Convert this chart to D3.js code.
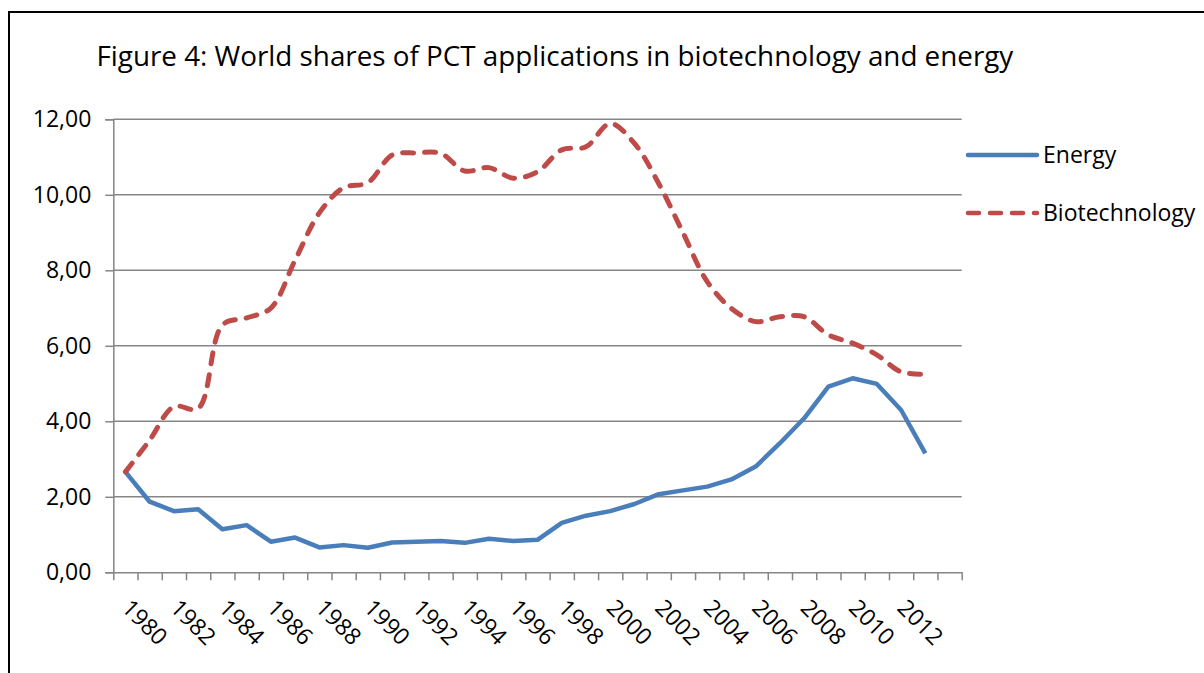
<!DOCTYPE html>
<html>
<head>
<meta charset="utf-8">
<script src="https://cdn.jsdelivr.net/npm/d3@7"></script>
<style>
  body { margin: 0; background: #fff; }
  svg { display: block; font-family: "Open Sans", sans-serif; }
</style>
</head>
<body>
<div id="chart-area"></div>
<script>
// data
const years = [1980, 1981, 1982, 1983, 1984, 1985, 1986, 1987, 1988, 1989,
  1990, 1991, 1992, 1993, 1994, 1995, 1996, 1997, 1998, 1999,
  2000, 2001, 2002, 2003, 2004, 2005, 2006, 2007, 2008, 2009,
  2010, 2011, 2012, 2013];
const energy = [2.66, 1.87, 1.62, 1.67, 1.14, 1.25, 0.81, 0.92, 0.66, 0.72,
  0.65, 0.79, 0.81, 0.83, 0.78, 0.89, 0.83, 0.86, 1.31, 1.50,
  1.62, 1.81, 2.07, 2.17, 2.27, 2.46, 2.80, 3.42, 4.08, 4.92,
  5.14, 4.99, 4.30, 3.15];
const biotech = [2.66, 3.50, 4.39, 4.34, 6.55, 6.74, 7.00, 8.27, 9.52, 10.19,
  10.32, 11.05, 11.11, 11.10, 10.63, 10.72, 10.44, 10.61, 11.19, 11.27,
  11.89, 11.36, 10.30, 9.00, 7.70, 6.99, 6.64, 6.77, 6.77, 6.29,
  6.07, 5.76, 5.31, 5.25];
const yTicks = [0, 2, 4, 6, 8, 10, 12];
const title = "Figure 4: World shares of PCT applications in biotechnology and energy";
const seriesNames = ["Energy", "Biotechnology"];

const W = 1204, H = 673;
const margin = { left: 113.3, right: 1204 - 961.7, top: 119.3, bottom: 673 - 572.3 };
const width = W - margin.left - margin.right,
  height = H - margin.top - margin.bottom;

const svg = d3.select("#chart-area").append("svg")
  .attr("width", W)
  .attr("height", H);

// outer chart frame
svg.append("rect")
  .attr("x", 9).attr("y", 12)
  .attr("width", W + 20).attr("height", H + 20)
  .attr("fill", "none")
  .attr("stroke", "#000")
  .attr("stroke-width", 2);

// title, sized to fit the original width
const titleText = svg.append("text")
  .attr("x", 96.5).attr("y", 66)
  .attr("fill", "#000")
  .style("font-size", "28px")
  .text(title);
const tw = titleText.node().getComputedTextLength();
titleText.style("font-size", (28 * 917 / tw) + "px");

const g = svg.append("g")
  .attr("transform", "translate(" + margin.left + "," + margin.top + ")");

// scales: one slot per year plus an empty trailing slot
const x = d3.scaleLinear().domain([0, years.length + 1]).range([0, width]);
const y = d3.scaleLinear().domain([0, 12]).range([height, 0]);

const gridColor = "#868686";

// gridlines
g.append("g")
  .selectAll("line")
  .data(yTicks.filter(d => d > 0))
  .join("line")
  .attr("x1", 0).attr("x2", width)
  .attr("y1", d => y(d)).attr("y2", d => y(d))
  .attr("stroke", gridColor)
  .attr("stroke-width", 1.5);

// y axis
const yAxis = g.append("g")
  .call(d3.axisLeft(y).tickValues(yTicks).tickSize(8).tickPadding(8)
    .tickFormat(d => d3.format(".2f")(d).replace(".", ",")));
yAxis.select(".domain").attr("stroke", gridColor).attr("stroke-width", 1.5);
yAxis.selectAll(".tick line").attr("stroke", gridColor).attr("stroke-width", 1.5);
yAxis.selectAll(".tick text")
  .attr("fill", "#000")
  .style("font-size", "23px")
  .style("font-family", "'Open Sans', sans-serif")
  .attr("x", -22);

// x axis (ticks between categories)
const xAxis = g.append("g")
  .attr("transform", "translate(0," + height + ")")
  .call(d3.axisBottom(x).tickValues(d3.range(0, years.length + 2)).tickSize(8)
    .tickSizeOuter(0).tickFormat(""));
xAxis.select(".domain").attr("stroke", gridColor).attr("stroke-width", 1.5);
xAxis.selectAll(".tick line").attr("stroke", gridColor).attr("stroke-width", 1.5);

// x labels, every other year, rotated
g.append("g")
  .selectAll("text")
  .data(years.map((yr, i) => ({ yr, i })).filter(d => d.i % 2 === 0))
  .join("text")
  .attr("transform", d => "translate(" + (x(d.i + 0.5) - 5) + "," + (height + 37) + ") rotate(45)")
  .attr("fill", "#000")
  .style("font-size", "23px")
  .text(d => d.yr);

// lines
const energyLine = d3.line()
  .x((d, i) => x(i + 0.5))
  .y(d => y(d));
const biotechLine = d3.line()
  .curve(d3.curveCatmullRom.alpha(0.5))
  .x((d, i) => x(i + 0.5))
  .y(d => y(d));

const blue = "#4A7EBB", red = "#BE4B48";

g.append("path")
  .attr("fill", "none")
  .attr("stroke", blue)
  .attr("stroke-width", 4.5)
  .attr("stroke-linejoin", "round")
  .attr("d", energyLine(energy));

g.append("path")
  .attr("fill", "none")
  .attr("stroke", red)
  .attr("stroke-width", 5)
  .attr("stroke-linecap", "round")
  .attr("stroke-dasharray", "11 11")
  .attr("d", biotechLine(biotech));

// legend
const legend = svg.append("g");
const legendItems = [
  { name: seriesNames[0], color: blue, dash: null, y: 155 },
  { name: seriesNames[1], color: red, dash: "11 11", y: 213 }
];
legendItems.forEach(d => {
  legend.append("line")
    .attr("x1", 968).attr("x2", 1037)
    .attr("y1", d.y).attr("y2", d.y)
    .attr("stroke", d.color)
    .attr("stroke-width", 4.5)
    .attr("stroke-linecap", "round")
    .attr("stroke-dasharray", d.dash);
  legend.append("text")
    .attr("x", 1043).attr("y", d.y + 8)
    .attr("fill", "#000")
    .style("font-size", "23px")
    .text(d.name);
});
</script>
</body>
</html>
